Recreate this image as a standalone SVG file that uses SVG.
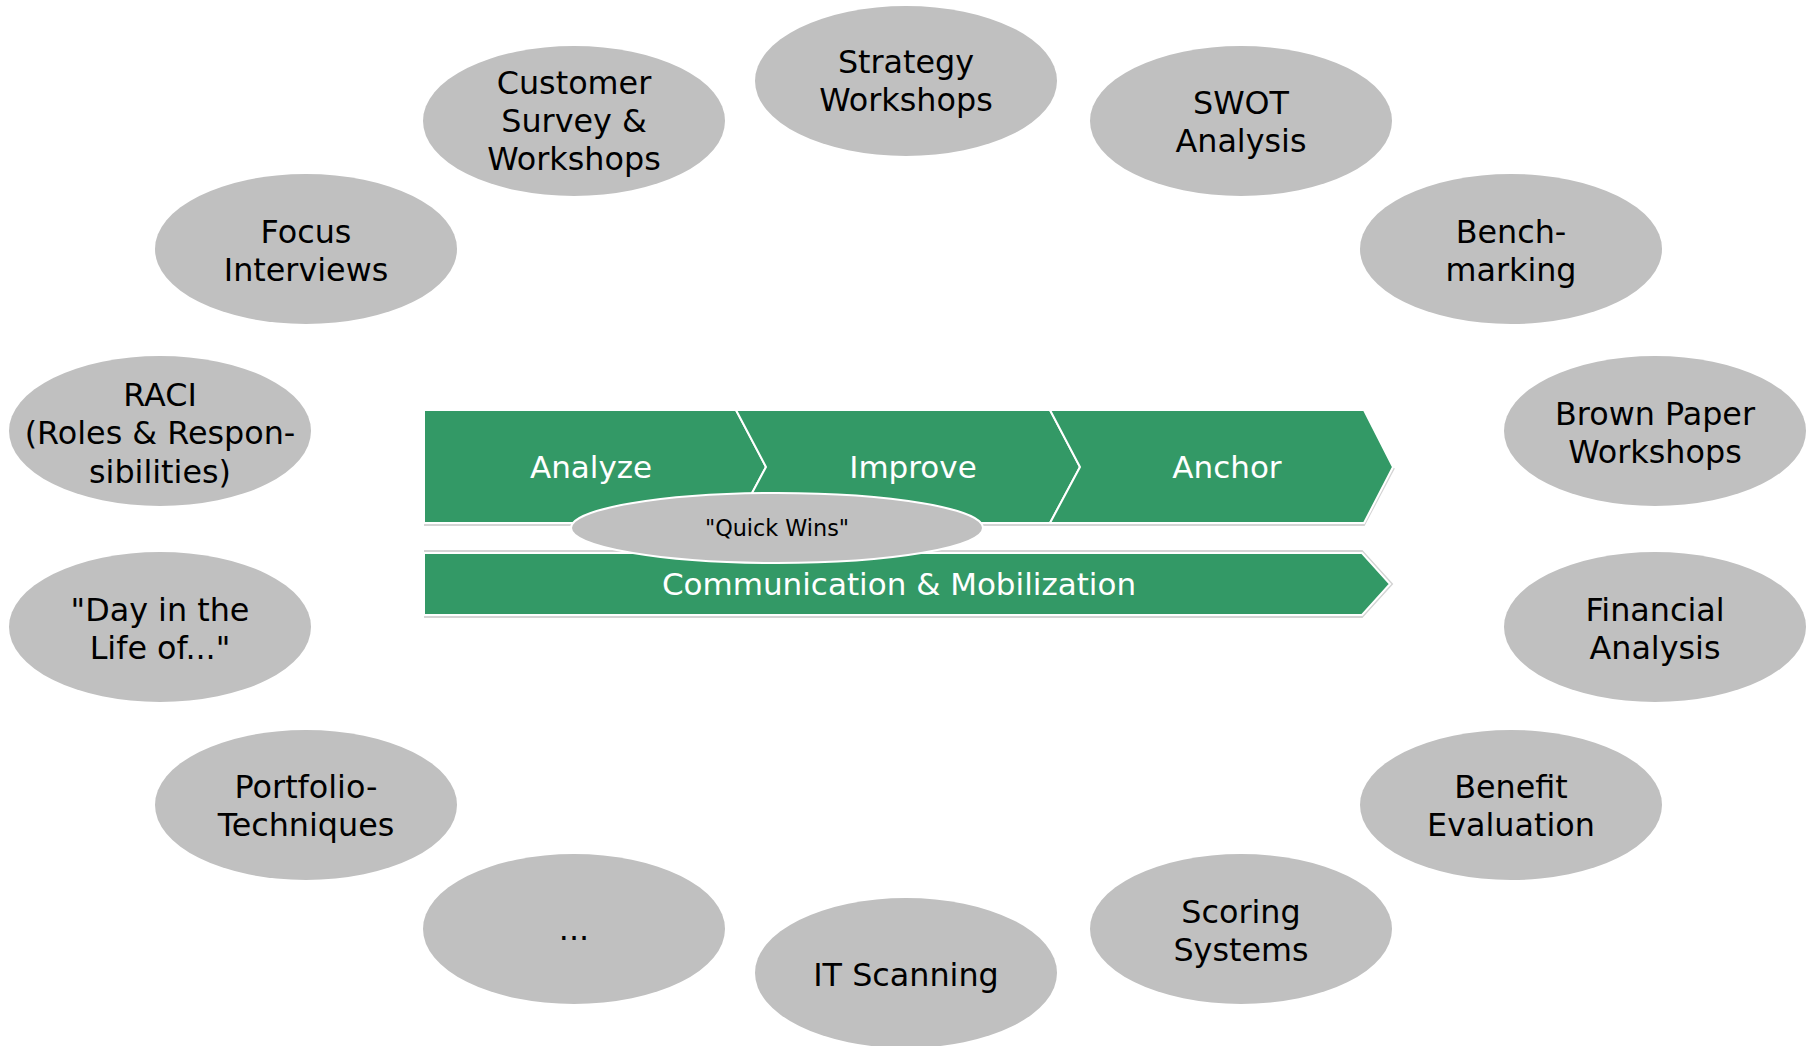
<svg xmlns="http://www.w3.org/2000/svg" width="1810" height="1046" viewBox="0 0 1810 1046">
<style>
.node ellipse{fill:#c0c0c0;stroke:none}
.lbl{font-family:"DejaVu Sans",Verdana,sans-serif;font-size:31.8px;fill:#000;text-anchor:middle}
.wl{font-family:"DejaVu Sans",Verdana,sans-serif;font-size:31px;fill:#fff;text-anchor:middle}
.chev{fill:#339966;stroke:#fff;stroke-width:2;stroke-linejoin:miter}
.sh{stroke:#d4d4d4;stroke-width:2;fill:none}
</style>
<rect width="1810" height="1046" fill="#fff"/>

<g id="process">
  <polyline class="sh" points="424,525 736,525"/>
  <polyline class="sh" points="736,525 1050,525"/>
  <polyline class="sh" points="1050,525 1364,525 1394,468"/>
  <polyline class="sh" points="424,551 1362,551 1392,584 1362,617 424,617"/>
  <g id="analyze">
    <path class="chev" d="M424,410 L736,410 L766,467 L736,523 L424,523 Z"/>
    <text class="wl" x="591" y="478">Analyze</text>
  </g>
  <g id="improve">
    <path class="chev" d="M736,410 L1050,410 L1080,467 L1050,523 L736,523 L766,467 Z"/>
    <text class="wl" x="913" y="478">Improve</text>
  </g>
  <g id="anchor">
    <path class="chev" d="M1050,410 L1364,410 L1393,467 L1364,523 L1050,523 L1080,467 Z"/>
    <text class="wl" x="1227" y="478">Anchor</text>
  </g>
  <g id="communication">
    <path class="chev" d="M424,553 L1362,553 L1390,584 L1362,615 L424,615 Z"/>
    <text class="wl" x="899" y="595">Communication &amp; Mobilization</text>
  </g>
  <g id="quickwins">
    <ellipse cx="777" cy="528" rx="206" ry="35" fill="#c0c0c0" stroke="#fff" stroke-width="2"/>
    <text x="777" y="536" font-family="DejaVu Sans, Verdana, sans-serif" font-size="22.3" text-anchor="middle" fill="#000">"Quick Wins"</text>
  </g>
</g>

<g id="connectors"></g>

<g id="n-strategy" class="node">
  <ellipse cx="906" cy="81" rx="151" ry="75"/>
  <text class="lbl" x="906" y="73">Strategy</text>
  <text class="lbl" x="906" y="111">Workshops</text>
</g>
<g id="n-customer" class="node">
  <ellipse cx="574" cy="121" rx="151" ry="75"/>
  <text class="lbl" x="574" y="94">Customer</text>
  <text class="lbl" x="574" y="132">Survey &amp;</text>
  <text class="lbl" x="574" y="170">Workshops</text>
</g>
<g id="n-swot" class="node">
  <ellipse cx="1241" cy="121" rx="151" ry="75"/>
  <text class="lbl" x="1241" y="114">SWOT</text>
  <text class="lbl" x="1241" y="152">Analysis</text>
</g>
<g id="n-focus" class="node">
  <ellipse cx="306" cy="249" rx="151" ry="75"/>
  <text class="lbl" x="306" y="243">Focus</text>
  <text class="lbl" x="306" y="281">Interviews</text>
</g>
<g id="n-bench" class="node">
  <ellipse cx="1511" cy="249" rx="151" ry="75"/>
  <text class="lbl" x="1511" y="243">Bench-</text>
  <text class="lbl" x="1511" y="281">marking</text>
</g>
<g id="n-raci" class="node">
  <ellipse cx="160" cy="431" rx="151" ry="75"/>
  <text class="lbl" x="160" y="406">RACI</text>
  <text class="lbl" x="160" y="444">(Roles &amp; Respon-</text>
  <text class="lbl" x="160" y="483">sibilities)</text>
</g>
<g id="n-brown" class="node">
  <ellipse cx="1655" cy="431" rx="151" ry="75"/>
  <text class="lbl" x="1655" y="425">Brown Paper</text>
  <text class="lbl" x="1655" y="463">Workshops</text>
</g>
<g id="n-day" class="node">
  <ellipse cx="160" cy="627" rx="151" ry="75"/>
  <text class="lbl" x="160" y="621">"Day in the</text>
  <text class="lbl" x="160" y="659">Life of..."</text>
</g>
<g id="n-financial" class="node">
  <ellipse cx="1655" cy="627" rx="151" ry="75"/>
  <text class="lbl" x="1655" y="621">Financial</text>
  <text class="lbl" x="1655" y="659">Analysis</text>
</g>
<g id="n-portfolio" class="node">
  <ellipse cx="306" cy="805" rx="151" ry="75"/>
  <text class="lbl" x="306" y="798">Portfolio-</text>
  <text class="lbl" x="306" y="836">Techniques</text>
</g>
<g id="n-benefit" class="node">
  <ellipse cx="1511" cy="805" rx="151" ry="75"/>
  <text class="lbl" x="1511" y="798">Benefit</text>
  <text class="lbl" x="1511" y="836">Evaluation</text>
</g>
<g id="n-dots" class="node">
  <ellipse cx="574" cy="929" rx="151" ry="75"/>
  <text class="lbl" x="574" y="940">...</text>
</g>
<g id="n-scoring" class="node">
  <ellipse cx="1241" cy="929" rx="151" ry="75"/>
  <text class="lbl" x="1241" y="923">Scoring</text>
  <text class="lbl" x="1241" y="961">Systems</text>
</g>
<g id="n-it" class="node">
  <ellipse cx="906" cy="973" rx="151" ry="75"/>
  <text class="lbl" x="906" y="986">IT Scanning</text>
</g>
</svg>
